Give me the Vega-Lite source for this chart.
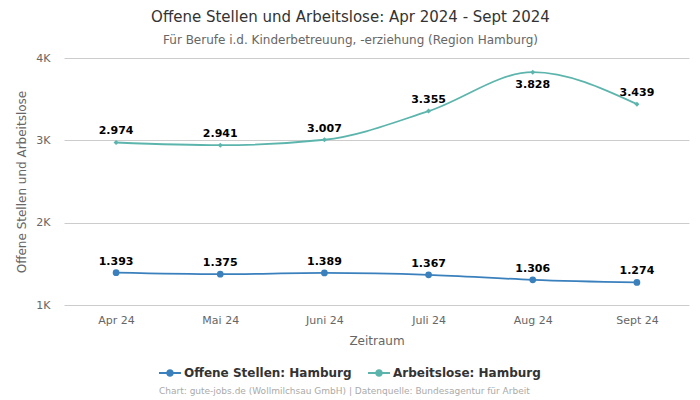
{
  "$schema": "https://vega.github.io/schema/vega-lite/v6.json",
  "width": 625,
  "height": 247,
  "autosize": {"type": "none"},
  "padding": {"left": 64, "top": 58, "right": 11, "bottom": 95},
  "background": "white",
  "config": {
    "font": "DejaVu Sans",
    "view": {"stroke": null},
    "locale": {"number": {"decimal": ",", "thousands": ".", "grouping": [3], "currency": ["", " €"]}}
  },
  "title": {
    "text": "Offene Stellen und Arbeitslose: Apr 2024 - Sept 2024",
    "subtitle": "Für Berufe i.d. Kinderbetreuung, -erziehung (Region Hamburg)",
    "anchor": "middle",
    "frame": "group",
    "dx": -26,
    "fontSize": 15,
    "fontWeight": "normal",
    "color": "#333333",
    "subtitleFontSize": 12,
    "subtitleColor": "#666666",
    "subtitlePadding": 10,
    "offset": 6
  },
  "data": {
    "values": [
      {"monat": "Apr 24", "serie": "Offene Stellen: Hamburg", "wert": 1393},
      {"monat": "Mai 24", "serie": "Offene Stellen: Hamburg", "wert": 1375},
      {"monat": "Juni 24", "serie": "Offene Stellen: Hamburg", "wert": 1389},
      {"monat": "Juli 24", "serie": "Offene Stellen: Hamburg", "wert": 1367},
      {"monat": "Aug 24", "serie": "Offene Stellen: Hamburg", "wert": 1306},
      {"monat": "Sept 24", "serie": "Offene Stellen: Hamburg", "wert": 1274},
      {"monat": "Apr 24", "serie": "Arbeitslose: Hamburg", "wert": 2974},
      {"monat": "Mai 24", "serie": "Arbeitslose: Hamburg", "wert": 2941},
      {"monat": "Juni 24", "serie": "Arbeitslose: Hamburg", "wert": 3007},
      {"monat": "Juli 24", "serie": "Arbeitslose: Hamburg", "wert": 3355},
      {"monat": "Aug 24", "serie": "Arbeitslose: Hamburg", "wert": 3828},
      {"monat": "Sept 24", "serie": "Arbeitslose: Hamburg", "wert": 3439}
    ]
  },
  "encoding": {
    "x": {
      "field": "monat",
      "type": "ordinal",
      "sort": null,
      "scale": {"type": "point", "padding": 0.5},
      "axis": {
        "title": "Zeitraum",
        "labelAngle": 0,
        "labelColor": "#666666",
        "labelFontSize": 11,
        "labelPadding": 9,
        "titleColor": "#666666",
        "titleFontSize": 12,
        "titleFontWeight": "normal",
        "titlePadding": 10,
        "domain": false,
        "ticks": false,
        "grid": false
      }
    },
    "y": {
      "field": "wert",
      "type": "quantitative",
      "scale": {"domain": [1000, 4000], "nice": false, "zero": false},
      "axis": {
        "title": "Offene Stellen und Arbeitslose",
        "values": [1000, 2000, 3000, 4000],
        "labelExpr": "(datum.value / 1000) + 'K'",
        "labelColor": "#666666",
        "labelFontSize": 11,
        "labelPadding": 14,
        "titleColor": "#666666",
        "titleFontSize": 12,
        "titleFontWeight": "normal",
        "titlePadding": 7,
        "domain": false,
        "ticks": false,
        "gridColor": "#cccccc"
      }
    },
    "color": {
      "field": "serie",
      "type": "nominal",
      "sort": ["Offene Stellen: Hamburg", "Arbeitslose: Hamburg"],
      "scale": {"domain": ["Offene Stellen: Hamburg", "Arbeitslose: Hamburg"], "range": ["#3a80bd", "#5cb5ad"]},
      "legend": {
        "title": "Chart: gute-jobs.de (Wollmilchsau GmbH) | Datenquelle: Bundesagentur für Arbeit",
        "titleOrient": "bottom",
        "titleAnchor": "start",
        "titleFontSize": 9,
        "titleFontWeight": "normal",
        "titleColor": "#aaaaaa",
        "titlePadding": 8,
        "titleLimit": 600,
        "labelLimit": 300,
        "orient": "none",
        "direction": "horizontal",
        "legendX": 95,
        "legendY": 304,
        "labelFontSize": 12,
        "labelFontWeight": "bold",
        "labelColor": "#333333",
        "labelOffset": 3,
        "columnPadding": 16,
        "symbolSize": 484,
        "symbolStrokeWidth": 0,
        "symbolType": "M-1,-0.08H1V0.08H-1ZM0.34,0A0.34,0.34 0 1,1 -0.34,0A0.34,0.34 0 1,1 0.34,0Z"
      }
    }
  },
  "layer": [
    {
      "mark": {"type": "line", "interpolate": "monotone", "strokeWidth": 1.8}
    },
    {
      "transform": [{"filter": "datum.serie === 'Offene Stellen: Hamburg'"}],
      "mark": {"type": "point", "filled": true, "opacity": 1, "shape": "circle", "size": 45}
    },
    {
      "transform": [{"filter": "datum.serie === 'Arbeitslose: Hamburg'"}],
      "mark": {"type": "point", "filled": true, "opacity": 1, "shape": "diamond", "size": 25}
    },
    {
      "transform": [{"filter": "datum.wert < 3800"}],
      "mark": {"type": "text", "dy": -11, "fontSize": 11, "fontWeight": "bold", "color": "black"},
      "encoding": {
        "text": {"field": "wert", "type": "quantitative", "format": ",d"},
        "color": {"value": "black"}
      }
    },
    {
      "transform": [{"filter": "datum.wert >= 3800"}],
      "mark": {"type": "text", "dy": 13, "fontSize": 11, "fontWeight": "bold", "color": "black"},
      "encoding": {
        "text": {"field": "wert", "type": "quantitative", "format": ",d"},
        "color": {"value": "black"}
      }
    }
  ]
}
